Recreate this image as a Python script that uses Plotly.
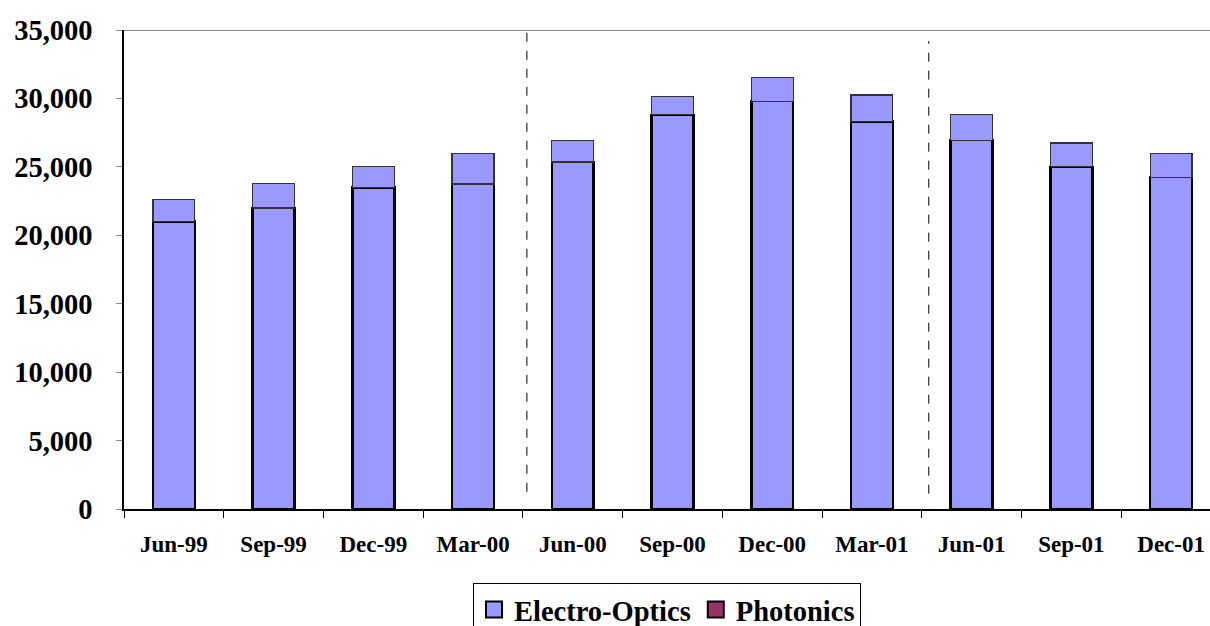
import plotly.graph_objects as go

# Quarterly sales, stacked: Electro-Optics at the base, Photonics on top
quarters = ["Jun-99", "Sep-99", "Dec-99", "Mar-00", "Jun-00", "Sep-00",
            "Dec-00", "Mar-01", "Jun-01", "Sep-01", "Dec-01"]
electro_optics = [21000, 22000, 23500, 23750, 25350, 28800,
                  29800, 28300, 26950, 25000, 24250]
photonics = [1600, 1800, 1550, 2250, 1600, 1350,
             1750, 1950, 1850, 1750, 1700]
y_ticks = [0, 5000, 10000, 15000, 20000, 25000, 30000, 35000]

LAVENDER = "#9999FF"
MAROON = "#993366"
FONT = "Liberation Serif"

fig = go.Figure()
fig.add_trace(go.Bar(
    x=quarters, y=electro_optics, name="Electro-Optics",
    marker=dict(color=LAVENDER, line=dict(color="black", width=2.5)),
    width=0.42, showlegend=False,
))
fig.add_trace(go.Bar(
    x=quarters, y=photonics, name="Photonics",
    marker=dict(color=LAVENDER, line=dict(color="#333333", width=1.2)),
    width=0.42, showlegend=False,
))
# legend swatches
for name, colour in [("Electro-Optics", LAVENDER), ("Photonics", MAROON)]:
    fig.add_trace(go.Scatter(
        x=[None], y=[None], mode="markers", name=name,
        marker=dict(symbol="square", size=18, color=colour,
                    line=dict(color="black", width=2)),
    ))

# period separators
fig.add_shape(type="line", xref="x", yref="paper", x0=3.54, x1=3.54, y0=0.036, y1=1,
              line=dict(color="black", width=1, dash="dash"))
fig.add_shape(type="line", xref="x", yref="paper", x0=7.57, x1=7.57, y0=0.032, y1=0.977,
              line=dict(color="black", width=1, dash="dash"))
# top border of the plot area
fig.add_shape(type="line", xref="paper", yref="y", x0=0, x1=1, y0=35000, y1=35000,
              line=dict(color="#888888", width=2))

fig.update_layout(
    width=1210, height=626,
    margin=dict(l=124, r=0, t=30, b=117),
    barmode="stack",
    plot_bgcolor="white", paper_bgcolor="white",
    font=dict(family=FONT, color="black"),
    showlegend=True,
    legend=dict(
        orientation="h", x=0.5, xanchor="center",
        yref="container", y=0.068, yanchor="top",
        font=dict(family=FONT, size=28.5, color="black", weight="bold"),
        bordercolor="black", borderwidth=1, bgcolor="white",
        traceorder="normal", itemwidth=30,
        tracegroupgap=0,
    ),
    xaxis=dict(
        type="category", range=[-0.5, 10.39],
        showline=True, linecolor="black", linewidth=1.5,
        ticks="outside", tickson="boundaries", ticklen=7, tickcolor="black",
        ticklabelstandoff=14,
        tickfont=dict(family=FONT, size=23, color="black", weight="bold"),
        showgrid=False,
    ),
    yaxis=dict(
        range=[0, 35000], tickvals=y_ticks, tickformat=",d",
        showline=True, linecolor="black", linewidth=1.5,
        ticks="outside", ticklen=6, tickcolor="#888888",
        ticklabelstandoff=18,
        tickfont=dict(family=FONT, size=28.5, color="black", weight="bold"),
        showgrid=False, zeroline=False,
    ),
)

fig.write_html("out.html")
